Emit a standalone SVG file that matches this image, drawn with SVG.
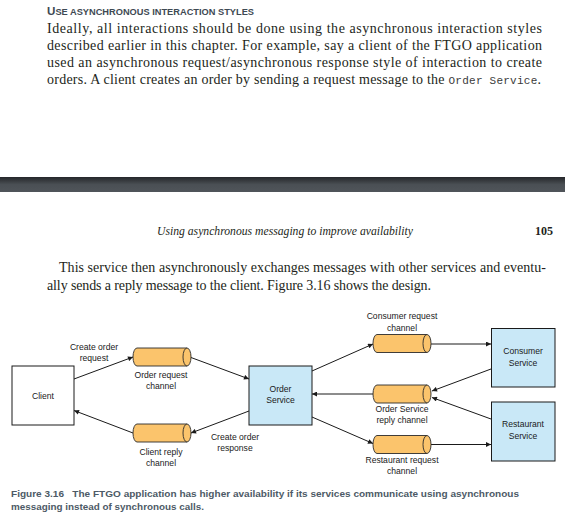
<svg xmlns="http://www.w3.org/2000/svg" width="565" height="528" viewBox="0 0 565 528">
<style>
.body{font-family:"Liberation Serif","Times New Roman",serif;font-size:14px;fill:#231f20}
.lbl{font-family:"Liberation Sans",Arial,sans-serif;font-size:8.6px;fill:#1a1a1a;text-anchor:middle}
.box{fill:#c9e8f7;stroke:#1a1a1a;stroke-width:1}
.cyl{fill:#fbc46c;stroke:#2a2a2a;stroke-width:0.9}
.conn line{stroke:#1a1a1a;stroke-width:1;marker-end:url(#ah)}
.cap{font-family:"Liberation Sans",Arial,sans-serif;font-size:9.6px;font-weight:bold;fill:#4d5a66}
</style>
<defs>
<marker id="ah" viewBox="0 0 10 10" refX="10" refY="5" markerWidth="7" markerHeight="5" orient="auto" markerUnits="userSpaceOnUse">
<path d="M0,0 L10,5 L0,10 z" fill="#1a1a1a"/>
</marker>
<linearGradient id="band" x1="0" y1="0" x2="0" y2="1">
<stop offset="0" stop-color="#25272a"/>
<stop offset="0.5" stop-color="#4a4f54"/>
<stop offset="1" stop-color="#50555a"/>
</linearGradient>
</defs>
<rect width="565" height="528" fill="#ffffff"/>

<g id="page104">
<text x="47" y="14.5" font-family="'Liberation Sans',Arial,sans-serif" font-weight="bold" fill="#3e4953" font-size="8.6px" textLength="207" lengthAdjust="spacingAndGlyphs"><tspan font-size="10.8px">U</tspan>SE ASYNCHRONOUS INTERACTION STYLES</text>
<text class="body" x="47" y="33" textLength="495" lengthAdjust="spacing">Ideally, all interactions should be done using the asynchronous interaction styles</text>
<text class="body" x="47" y="50" textLength="495" lengthAdjust="spacing">described earlier in this chapter. For example, say a client of the FTGO application</text>
<text class="body" x="47" y="66.5" textLength="495" lengthAdjust="spacing">used an asynchronous request/asynchronous response style of interaction to create</text>
<text class="body" x="47" y="83.5" textLength="494" lengthAdjust="spacing">orders. A client creates an order by sending a request message to the <tspan font-family="'Liberation Mono','Courier New',monospace" font-size="11px" fill="#3a3a3a">Order Service</tspan>.</text>
</g>

<rect x="0" y="177" width="565" height="15" fill="url(#band)"/>

<g id="page105">
<text x="157" y="235" font-family="'Liberation Serif','Times New Roman',serif" font-style="italic" font-size="12px" fill="#231f20" textLength="256" lengthAdjust="spacingAndGlyphs">Using asynchronous messaging to improve availability</text>
<text x="553" y="235" font-family="'Liberation Serif','Times New Roman',serif" font-weight="bold" font-size="12px" fill="#231f20" text-anchor="end">105</text>
<text class="body" x="59" y="272" textLength="487" lengthAdjust="spacing">This service then asynchronously exchanges messages with other services and eventu-</text>
<text class="body" x="47" y="290" textLength="384" lengthAdjust="spacing">ally sends a reply message to the client. Figure 3.16 shows the design.</text>
</g>

<g class="conn" id="connectors">
<line x1="74" y1="379" x2="133" y2="357"/>
<line x1="191" y1="357.5" x2="249" y2="379"/>
<line x1="249" y1="411" x2="191" y2="433"/>
<line x1="133" y1="433" x2="74" y2="410.5"/>
<line x1="312" y1="371" x2="373" y2="344"/>
<line x1="373" y1="394" x2="312" y2="394"/>
<line x1="312" y1="417" x2="373" y2="443.5"/>
<line x1="431" y1="344" x2="491" y2="344"/>
<line x1="491" y1="369" x2="432" y2="391"/>
<line x1="491" y1="419" x2="432" y2="397.5"/>
<line x1="431" y1="444.5" x2="491" y2="444.5"/>
</g>

<g id="client">
<rect x="12" y="366" width="62" height="59" fill="#ffffff" stroke="#1a1a1a" stroke-width="1"/>
<text class="lbl" x="43" y="398.5">Client</text>
</g>

<g id="order-service">
<rect class="box" x="249" y="366" width="63" height="59"/>
<text class="lbl" x="280.5" y="391.5">Order</text>
<text class="lbl" x="280.5" y="402.5">Service</text>
</g>

<g id="consumer-service">
<rect class="box" x="491.5" y="328.5" width="63.5" height="58.5"/>
<text class="lbl" x="523" y="354">Consumer</text>
<text class="lbl" x="523" y="365.5">Service</text>
</g>

<g id="restaurant-service">
<rect class="box" x="491.5" y="402" width="63.5" height="59"/>
<text class="lbl" x="523" y="427">Restaurant</text>
<text class="lbl" x="523" y="438.5">Service</text>
</g>

<g id="order-request-channel">
<path class="cyl" d="M137,348 L187,348 A4,9 0 0 1 187,366 L137,366 A4,9 0 0 1 137,348 Z"/>
<path class="cyl" fill="none" d="M187,348 A4,9 0 0 0 187,366"/>
<text class="lbl" x="161" y="378">Order request</text>
<text class="lbl" x="161" y="389">channel</text>
</g>

<g id="client-reply-channel">
<path class="cyl" d="M137,424 L187,424 A4,9 0 0 1 187,442 L137,442 A4,9 0 0 1 137,424 Z"/>
<path class="cyl" fill="none" d="M187,424 A4,9 0 0 0 187,442"/>
<text class="lbl" x="161" y="455">Client reply</text>
<text class="lbl" x="161" y="466">channel</text>
</g>

<g id="consumer-request-channel">
<path class="cyl" d="M377,334.5 L427,334.5 A4,9 0 0 1 427,352.5 L377,352.5 A4,9 0 0 1 377,334.5 Z"/>
<path class="cyl" fill="none" d="M427,334.5 A4,9 0 0 0 427,352.5"/>
<text class="lbl" x="402" y="319">Consumer request</text>
<text class="lbl" x="402" y="330.5">channel</text>
</g>

<g id="order-service-reply-channel">
<path class="cyl" d="M377,385 L427,385 A4,9 0 0 1 427,403 L377,403 A4,9 0 0 1 377,385 Z"/>
<path class="cyl" fill="none" d="M427,385 A4,9 0 0 0 427,403"/>
<text class="lbl" x="402" y="412">Order Service</text>
<text class="lbl" x="402" y="423">reply channel</text>
</g>

<g id="restaurant-request-channel">
<path class="cyl" d="M377,435.5 L427,435.5 A4,9 0 0 1 427,453.5 L377,453.5 A4,9 0 0 1 377,435.5 Z"/>
<path class="cyl" fill="none" d="M427,435.5 A4,9 0 0 0 427,453.5"/>
<text class="lbl" x="402" y="462.5">Restaurant request</text>
<text class="lbl" x="402" y="474">channel</text>
</g>

<g id="edge-labels">
<text class="lbl" x="94" y="349.5">Create order</text>
<text class="lbl" x="94" y="360.5">request</text>
<text class="lbl" x="235" y="440">Create order</text>
<text class="lbl" x="235" y="451">response</text>
</g>

<g id="caption">
<text class="cap" x="11" y="497" textLength="508" lengthAdjust="spacingAndGlyphs">Figure 3.16<tspan dx="8">The FTGO application has higher availability if its services communicate using asynchronous</tspan></text>
<text class="cap" x="11" y="509.5" textLength="193" lengthAdjust="spacingAndGlyphs">messaging instead of synchronous calls.</text>
</g>
</svg>
